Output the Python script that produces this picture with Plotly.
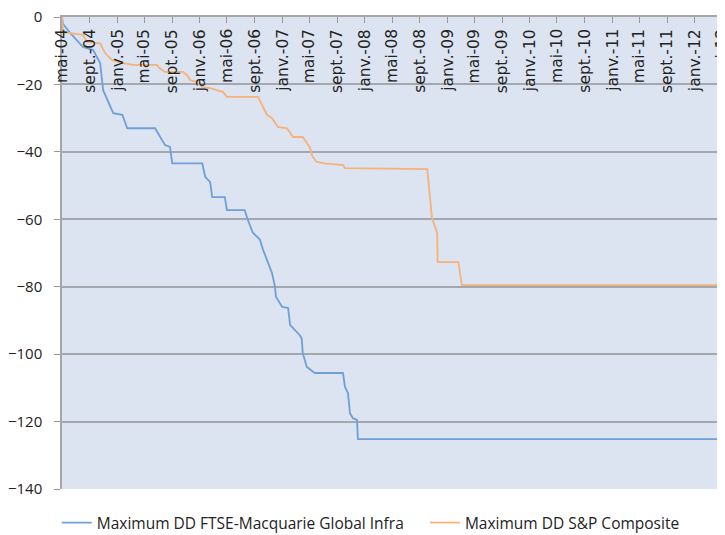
import plotly.graph_objects as go

# Maximum drawdown, FTSE-Macquarie Global Infra (breakpoints)
infra_dates = ["2004-05-01", "2004-05-05", "2004-06-06", "2004-08-02", "2004-09-16", "2004-10-17",
               "2004-10-30", "2004-12-14", "2005-01-23", "2005-02-14", "2005-06-17", "2005-07-08",
               "2005-07-31", "2005-08-22", "2005-09-01", "2006-01-12", "2006-01-25", "2006-02-16",
               "2006-02-25", "2006-04-22", "2006-05-01", "2006-07-19", "2006-08-02", "2006-08-24",
               "2006-09-24", "2006-10-08", "2006-11-17", "2006-11-30", "2006-12-04", "2007-01-01",
               "2007-01-27", "2007-02-05", "2007-02-27", "2007-03-19", "2007-03-28", "2007-04-02",
               "2007-04-20", "2007-05-25", "2007-09-27", "2007-10-06", "2007-10-19", "2007-10-28",
               "2007-11-10", "2007-11-28", "2007-12-02", "2012-05-01"]
infra_dd = [0, -2, -4.7, -8.9, -9.8, -13.7,
            -21.7, -28.5, -29, -33, -33, -35.6,
            -38, -38.5, -43.4, -43.4, -47.4, -49,
            -53.4, -53.4, -57.3, -57.3, -60.2, -64,
            -66, -69, -76, -80, -83, -86,
            -86.3, -91.4, -92.8, -94.3, -95.3, -99.7,
            -103.8, -105.6, -105.6, -109.8, -111.5, -117.5,
            -119, -119.5, -125.2, -125.2]

# Maximum drawdown, S&P Composite
sp_dates = ["2004-05-01", "2004-05-05", "2004-08-02", "2004-08-20", "2004-10-17", "2004-11-08",
            "2004-12-09", "2005-01-27", "2005-03-11", "2005-06-25", "2005-07-08", "2005-07-31",
            "2005-10-19", "2005-11-06", "2005-11-19", "2005-12-20", "2006-01-12", "2006-02-16",
            "2006-03-17", "2006-04-13", "2006-05-01", "2006-09-16", "2006-10-08", "2006-10-25",
            "2006-11-17", "2006-12-13", "2007-01-22", "2007-02-18", "2007-04-02", "2007-05-03",
            "2007-05-16", "2007-06-03", "2007-07-08", "2007-09-27", "2007-10-06", "2008-10-04",
            "2008-10-25", "2008-11-17", "2008-11-19", "2009-02-19", "2009-03-06", "2012-05-01"]
sp_dd = [0, -4.5, -5.3, -7.4, -7.8, -10.7,
         -12.8, -13.7, -14.2, -14.2, -15.2, -16.3,
         -16.3, -17.2, -18.7, -19.3, -20.8, -21.1,
         -21.7, -22.2, -23.7, -23.7, -26.7, -29,
         -30, -32.6, -33, -35.6, -35.6, -38.6,
         -41.5, -43, -43.4, -43.9, -44.8, -45.1,
         -59.6, -64, -72.7, -72.7, -79.5, -79.5]

tick_dates = ["2004-05-01", "2004-09-01", "2005-01-01", "2005-05-01", "2005-09-01", "2006-01-01",
              "2006-05-01", "2006-09-01", "2007-01-01", "2007-05-01", "2007-09-01", "2008-01-01",
              "2008-05-01", "2008-09-01", "2009-01-01", "2009-05-01", "2009-09-01", "2010-01-01",
              "2010-05-01", "2010-09-01", "2011-01-01", "2011-05-01", "2011-09-01", "2012-01-01",
              "2012-05-01"]
tick_labels = ["mai-04", "sept.-04", "janv.-05", "mai-05", "sept.-05", "janv.-06",
               "mai-06", "sept.-06", "janv.-07", "mai-07", "sept.-07", "janv.-08",
               "mai-08", "sept.-08", "janv.-09", "mai-09", "sept.-09", "janv.-10",
               "mai-10", "sept.-10", "janv.-11", "mai-11", "sept.-11", "janv.-12",
               "mai-12"]

fig = go.Figure()
fig.add_trace(go.Scatter(x=infra_dates, y=infra_dd, mode="lines",
                         name="Maximum DD FTSE-Macquarie Global Infra\u00a0\u00a0\u00a0\u00a0",
                         line=dict(color="#6f9fd8", width=1.8)))
fig.add_trace(go.Scatter(x=sp_dates, y=sp_dd, mode="lines",
                         name="Maximum DD S&P Composite",
                         line=dict(color="#f5b27a", width=1.8)))

# date labels drawn inside the plot, under the top axis line
for d, lab in zip(tick_dates, tick_labels):
    fig.add_annotation(x=d, y=1, xref="x", yref="paper", text=lab, textangle=-90,
                       showarrow=False, xanchor="center", yanchor="top", yshift=-10,
                       font=dict(family="DejaVu Sans", size=15.5, color="#222222"))

# page body has an 8px margin, so the figure is 8px smaller than the window
fig.update_layout(
    width=717, height=527,
    margin=dict(l=54, r=3, t=9, b=46, autoexpand=False),
    paper_bgcolor="white",
    plot_bgcolor="#dbe4f0",
    font=dict(family="Open Sans", color="#222222"),
    showlegend=True,
    legend=dict(orientation="h", x=-0.008, xanchor="left", y=-0.072, yanchor="middle",
                font=dict(size=15.5, color="#222222")),
)
fig.update_xaxes(
    type="date", side="top", range=["2004-05-01", "2012-05-01"],
    tickvals=tick_dates, showticklabels=False,
    ticks="inside", ticklen=6, tickcolor="#999999",
    showgrid=False, showline=True, linecolor="#a6a6a6", linewidth=1.5,
    zeroline=False, automargin=False,
)
fig.update_yaxes(
    range=[-140, 0], dtick=20, tick0=0,
    ticks="outside", ticklen=6, tickcolor="#999999", ticklabelstandoff=9,
    ticklabeloverflow="allow",
    tickfont=dict(size=15, color="#222222"),
    showgrid=True, gridcolor="#a3a8ae", gridwidth=1.8,
    showline=True, linecolor="#a6a6a6", linewidth=1.5,
    zeroline=False, automargin=False,
)

fig.write_html("out.html")
